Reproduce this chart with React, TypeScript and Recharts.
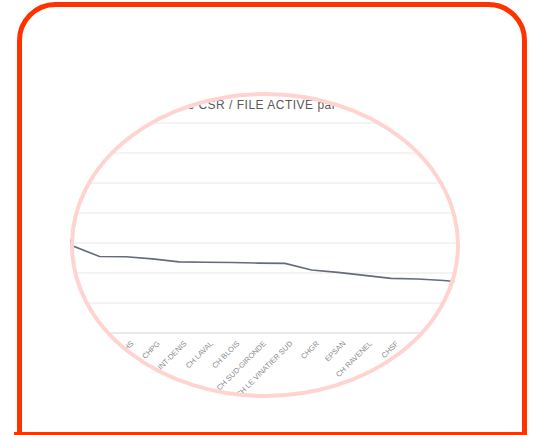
import React from 'react';
import { LineChart, Line, XAxis, YAxis, CartesianGrid } from 'recharts';

const categories: string[] = [
  'CH', 'CH VALENCE', 'CH ALBI', 'EPSM', 'CHS', 'CHPG', 'CH SAINT-DENIS', 'CH LAVAL', 'CH BLOIS',
  'CH SUD-GIRONDE', 'CH LE VINATIER SUD', 'CHGR', 'EPSAN', 'CH RAVENEL', 'CHSF', 'CH NIORT', 'CHU', 'EPSM', 'CH',
];
const ratioValues: number[] = [
  5.0, 4.6, 2.9, 2.55, 2.54, 2.47, 2.37, 2.36, 2.35, 2.33, 2.32, 2.1, 2.02, 1.92, 1.82, 1.8, 1.75, 1.67, 1.6,
];
const yTicks: number[] = [0, 1, 2, 3, 4, 5, 6, 7];
const titleText = 'Ratio moyenne CSR / FILE ACTIVE par établissement';

const data = categories.map((c, i) => ({ key: `${i}`, name: c, ratio: ratioValues[i] }));

const Tick = (props: any) => {
  const { x, y, index } = props;
  const label = categories[index] ?? '';
  return (
    <g transform={`translate(${x + 8},${y + 3})`}>
      <text textAnchor="end" transform="rotate(-45)" fontSize={7.5} fill="#8c8c8c" fontFamily="Liberation Sans, Arial, sans-serif">
        {label}
      </text>
    </g>
  );
};

export default function App() {
  return (
    <div style={{ position: 'absolute', left: 0, top: 0, width: 538, height: 435, background: '#fff', overflow: 'hidden' }}>
      <div style={{ position: 'absolute', left: 0, top: 0, width: 538, height: 435, clipPath: 'ellipse(195px 152px at 265px 245px)' }}>
        <LineChart width={538} height={435} data={data} margin={{ top: 123, right: 41, bottom: 22, left: 20 }}>
          <CartesianGrid horizontal vertical={false} stroke="#e8e8e8" strokeWidth={1.2} />
          <XAxis dataKey="key" interval={0} tickLine={false} axisLine={{ stroke: '#dedede' }} height={80} tick={<Tick />} padding={{ left: 0, right: 0 }} />
          <YAxis hide domain={[0, 7]} ticks={yTicks} />
          <Line type="linear" dataKey="ratio" stroke="#646c78" strokeWidth={1.6} dot={false} isAnimationActive={false} />
        </LineChart>
        <svg width={538} height={435} style={{ position: 'absolute', left: 0, top: 0 }}>
          <text x={264} y={109} textAnchor="middle" fontSize={12} letterSpacing={0.5} fill="#5a5a5a" fontFamily="Liberation Sans, Arial, sans-serif">
            {titleText}
          </text>
        </svg>
      </div>
      <svg width={538} height={435} style={{ position: 'absolute', left: 0, top: 0 }}>
        <ellipse cx={265} cy={245} rx={193} ry={151} fill="none" stroke="#ffd4d0" strokeWidth={4} />
        <path d="M 19.5 436 L 19.5 40.5 A 36 36 0 0 1 55.5 4.5 L 488.5 4.5 A 36 36 0 0 1 524.5 40.5 L 524.5 436" fill="none" stroke="#ff3300" strokeWidth={5} />
        <line x1={14} y1={433.5} x2={527} y2={433.5} stroke="#ff3300" strokeWidth={3} />
      </svg>
    </div>
  );
}
